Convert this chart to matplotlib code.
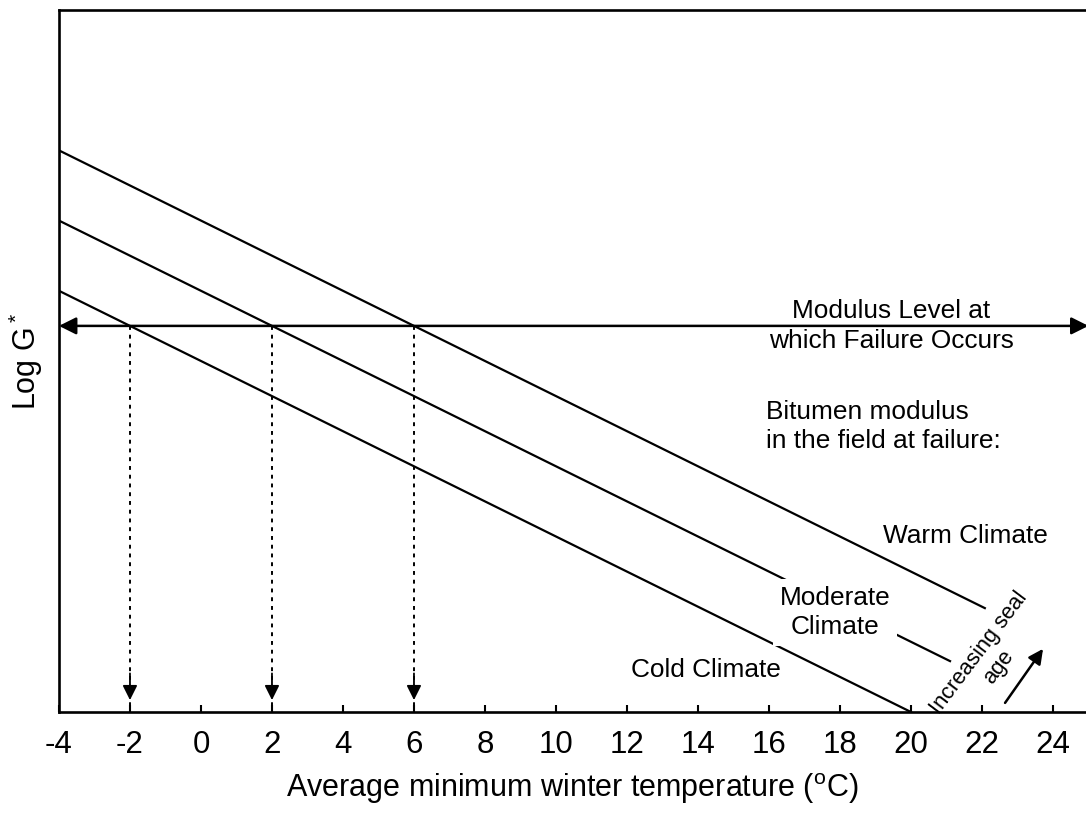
import numpy as np
import matplotlib
matplotlib.use("Agg")
import matplotlib.pyplot as plt

plt.rcParams['font.family'] = ['Liberation Sans', 'DejaVu Sans']
plt.rcParams['mathtext.fontset'] = 'custom'
plt.rcParams['mathtext.rm'] = 'Liberation Sans'

# temperature axis (oC) and arbitrary Log G* scale (0..10)
x_ticks = [-4, -2, 0, 2, 4, 6, 8, 10, 12, 14, 16, 18, 20, 22, 24]
failure_level = 5.5

# climate lines: start / end temperature and Log G* at the failure crossing
climates = ["Warm", "Moderate", "Cold"]
cross_temp = [6, 2, -2]          # where each line meets the failure level
line_start = [-4, -4, -4]
line_end = [22.08, 21.1, 20.0]
slope = -0.25                     # Log G* per oC

fig = plt.figure(figsize=(10.86, 8.17), dpi=100)
ax = fig.add_axes([0.0543, 0.1285, 0.9457, 0.8593])

for t0, xs, xe in zip(cross_temp, line_start, line_end):
    xx = np.array([xs, xe])
    ax.plot(xx, failure_level + slope * (xx - t0), color='black', lw=1.6, zorder=2)

# horizontal double arrow: modulus level at which failure occurs
ax.annotate('', xy=(-4, failure_level), xytext=(25, failure_level),
            arrowprops=dict(arrowstyle='<|-|>', color='black', lw=1.8,
                            mutation_scale=26, shrinkA=0, shrinkB=0),
            annotation_clip=False, zorder=3)

# dotted drop lines to the temperature axis
for t0 in cross_temp:
    ax.plot([t0, t0], [failure_level, 0], color='black', lw=1.4,
            linestyle=(0, (2, 2.5)), zorder=2)
    ax.annotate('', xy=(t0, 0.17), xytext=(t0, 0.55),
                arrowprops=dict(arrowstyle='-|>', color='black', lw=1.3,
                                mutation_scale=22, shrinkA=0, shrinkB=0))

fs = 18.9
ax.text(19.45, failure_level, 'Modulus Level at\nwhich Failure Occurs',
        ha='center', va='center', fontsize=fs, linespacing=1.28)
ax.text(15.92, 4.07, 'Bitumen modulus\nin the field at failure:',
        ha='left', va='center', fontsize=fs, linespacing=1.28)
ax.text(21.52, 2.51, 'Warm Climate', ha='center', va='center', fontsize=fs)
ax.text(17.86, 1.42, 'Moderate\nClimate', ha='center', va='center',
        fontsize=fs, linespacing=1.28, zorder=4,
        bbox=dict(facecolor='white', edgecolor='none', pad=5))
ax.text(14.23, 0.60, 'Cold Climate', ha='center', va='center', fontsize=fs)

ax.text(22.2, 0.74, 'Increasing seal\nage', ha='center', va='center',
        fontsize=15.8, rotation=53, rotation_mode='anchor', linespacing=1.2)
ax.annotate('', xy=(23.72, 0.90), xytext=(22.65, 0.13),
            arrowprops=dict(arrowstyle='-|>', color='black', lw=1.8,
                            mutation_scale=22, shrinkA=0, shrinkB=0))

ax.set_xlim(-4, 24.93)
ax.set_ylim(0, 10)
ax.set_xticks(x_ticks)
ax.set_xticklabels([str(v) for v in x_ticks])
ax.set_yticks([])
ax.tick_params(axis='x', direction='in', length=5, width=1.5, labelsize=22.5, pad=13)
for s in ['left', 'bottom', 'top']:
    ax.spines[s].set_linewidth(1.9)
ax.spines['right'].set_visible(False)

ax.set_xlabel('Average minimum winter temperature ($\\mathrm{^o}$C)', fontsize=22, labelpad=8)
ax.set_ylabel('Log G$\\mathrm{^*}$', fontsize=22, labelpad=10)

fig.savefig('out.png', dpi=100)
